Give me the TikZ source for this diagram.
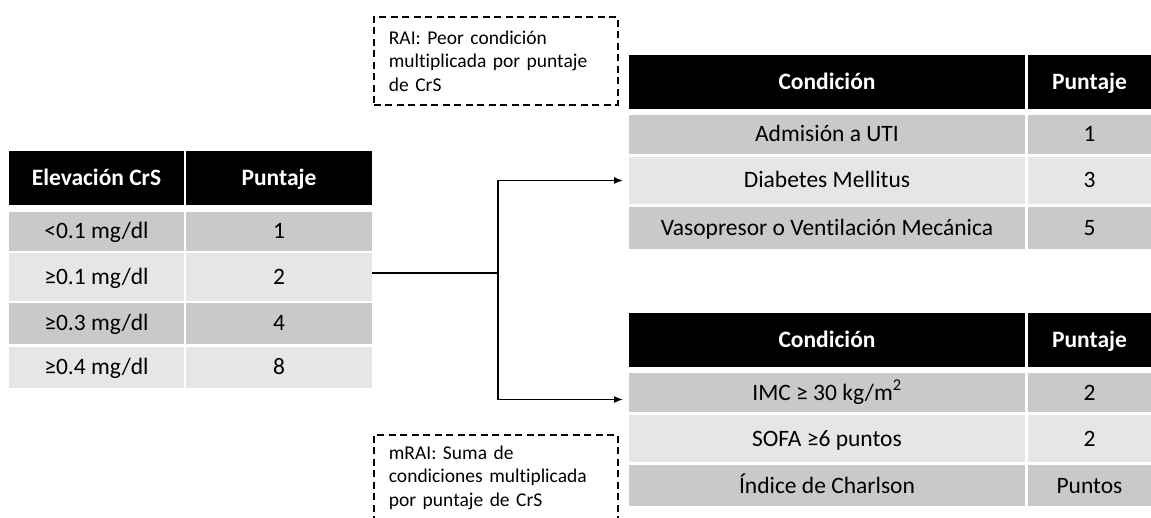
\documentclass[tikz,border=0pt]{standalone}
\usepackage{fontspec}
\setmainfont{Carlito}[Ligatures=NoCommon]
\usepackage{xcolor}
\usepackage{tikz}
\usetikzlibrary{positioning,arrows.meta}

\definecolor{rowdark}{HTML}{C9C9C9}
\definecolor{rowlight}{HTML}{E6E6E6}

\tikzset{
    cell/.style={inner sep=0pt, outer sep=0pt, text height=20pt, text depth=5pt, font=\fontsize{23.5}{27}\selectfont},
    hdr/.style={cell, fill=black, text=white, font=\fontsize{23.5}{27}\selectfont\bfseries, minimum height=54pt},
    darkrow/.style={cell, fill=rowdark},
    lightrow/.style={cell, fill=rowlight},
    note/.style={draw, dash pattern=on 7pt off 4.5pt, line width=1.8pt, inner xsep=15pt, inner ysep=0pt,
        text width=214pt, align=left, minimum width=244pt, font=\fontsize{19.5}{23.5}\selectfont},
    link/.style={line width=1.4pt}
}

\begin{document}
\begin{tikzpicture}[x=1pt, y=1pt]
    \clip (0,0) rectangle (1151,-518);

    % Left table: CrS elevation
    \node [hdr, minimum width=175pt, anchor=north west] (lhA) at (9,-151) {Elevación CrS};
    \node [hdr, minimum width=186pt, right=2pt of lhA] (lhB) {Puntaje};

    \node [darkrow, minimum width=175pt, minimum height=39pt, below=7pt of lhA] (lr1a) {<0.1 mg/dl};
    \node [darkrow, minimum width=186pt, minimum height=39pt, right=2pt of lr1a] (lr1b) {1};

    \node [lightrow, minimum width=175pt, minimum height=48pt, below=2pt of lr1a] (lr2a) {≥0.1 mg/dl};
    \node [lightrow, minimum width=186pt, minimum height=48pt, right=2pt of lr2a] (lr2b) {2};

    \node [darkrow, minimum width=175pt, minimum height=41pt, below=2pt of lr2a] (lr3a) {≥0.3 mg/dl};
    \node [darkrow, minimum width=186pt, minimum height=41pt, right=2pt of lr3a] (lr3b) {4};

    \node [lightrow, minimum width=175pt, minimum height=41pt, below=3pt of lr3a] (lr4a) {≥0.4 mg/dl};
    \node [lightrow, minimum width=186pt, minimum height=41pt, right=2pt of lr4a] (lr4b) {8};

    % Top right table: RAI conditions
    \node [hdr, minimum width=396pt, anchor=north west] (thA) at (629,-55) {Condición};
    \node [hdr, minimum width=123pt, right=3pt of thA] (thB) {Puntaje};

    \node [darkrow, minimum width=396pt, minimum height=39pt, below=6pt of thA] (tr1a) {Admisión a UTI};
    \node [darkrow, minimum width=123pt, minimum height=39pt, right=3pt of tr1a] (tr1b) {1};

    \node [lightrow, minimum width=396pt, minimum height=47pt, below=3pt of tr1a] (tr2a) {Diabetes Mellitus};
    \node [lightrow, minimum width=123pt, minimum height=47pt, right=3pt of tr2a] (tr2b) {3};

    \node [darkrow, minimum width=396pt, minimum height=42pt, below=3pt of tr2a] (tr3a) {Vasopresor o Ventilación Mecánica};
    \node [darkrow, minimum width=123pt, minimum height=42pt, right=3pt of tr3a] (tr3b) {5};

    % Bottom right table: mRAI conditions
    \node [hdr, minimum width=396pt, anchor=north west] (bhA) at (629,-313) {Condición};
    \node [hdr, minimum width=123pt, right=3pt of bhA] (bhB) {Puntaje};

    \node [darkrow, minimum width=396pt, minimum height=39pt, below=6pt of bhA] (br1a) {IMC ≥ 30 kg/m\textsuperscript{2}};
    \node [darkrow, minimum width=123pt, minimum height=39pt, right=3pt of br1a] (br1b) {2};

    \node [lightrow, minimum width=396pt, minimum height=47pt, below=3pt of br1a] (br2a) {SOFA ≥6 puntos};
    \node [lightrow, minimum width=123pt, minimum height=47pt, right=3pt of br2a] (br2b) {2};

    \node [darkrow, minimum width=396pt, minimum height=41pt, below=3pt of br2a] (br3a) {Índice de Charlson};
    \node [darkrow, minimum width=123pt, minimum height=41pt, right=3pt of br3a] (br3b) {Puntos};

    % Dashed notes
    \node [note, minimum height=88pt, anchor=north west] (rai) at (373,-16)
        {RAI: Peor condición\\multiplicada por puntaje\\de CrS};
    \node [note, minimum height=86pt, anchor=north west] (mrai) at (373,-434)
        {mRAI: Suma de\\condiciones multiplicada\\por puntaje de CrS};

    % Connections
    \coordinate (fork) at (498,-273);
    \draw [link] ([yshift=4pt]lr2b.east) -- (fork);
    \draw [link, -{Latex[length=9pt,width=7pt]}] (fork) |- ([xshift=-6pt]tr2a.west);
    \draw [link, -{Latex[length=9pt,width=7pt]}] (fork) |- ([xshift=-6pt,yshift=-7pt]br1a.west);
\end{tikzpicture}
\end{document}
